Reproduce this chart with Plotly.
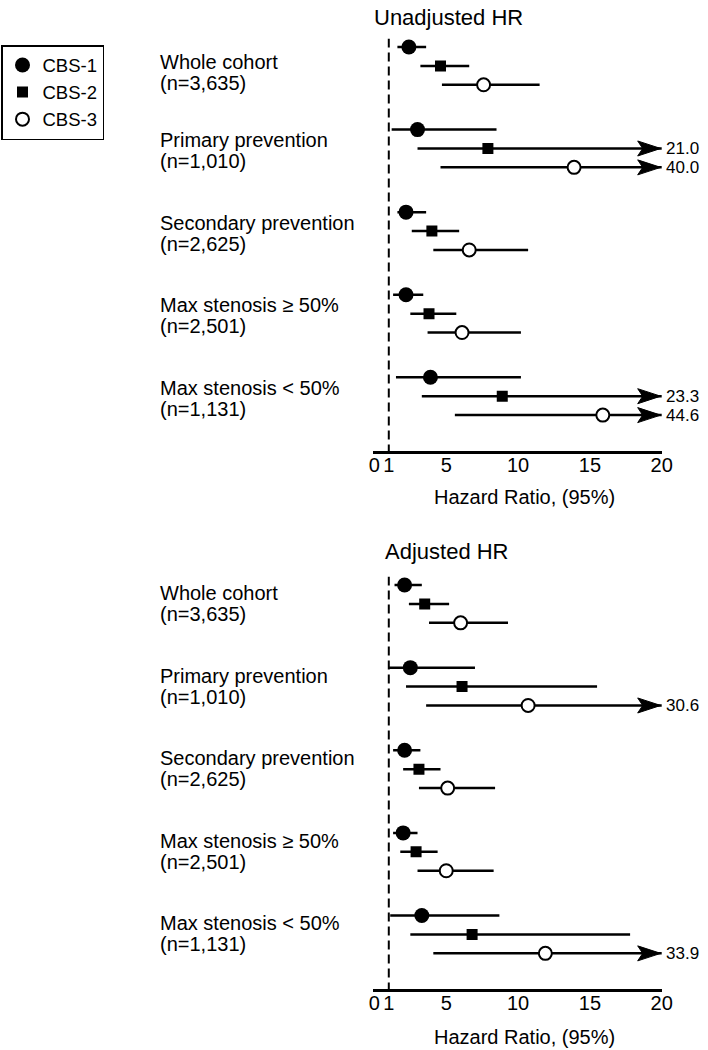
import plotly.graph_objects as go

W, H = 708, 1050

# ---------------- data ----------------
groups = ["Whole cohort", "Primary prevention", "Secondary prevention",
          "Max stenosis ≥ 50%", "Max stenosis < 50%"]
group_n = ["(n=3,635)", "(n=1,010)", "(n=2,625)", "(n=2,501)", "(n=1,131)"]
series = ["CBS-1", "CBS-2", "CBS-3"]
panel_titles = ["Unadjusted HR", "Adjusted HR"]
x_title = "Hazard Ratio, (95%)"
tick_vals = [0, 1, 5, 10, 15, 20]
tick_text = ["0", "1", "5", "10", "15", "20"]

# Unadjusted HR (point, lower, upper)
hr_u1 = [2.4, 3.0, 2.2, 2.2, 3.9]
lo_u1 = [1.6, 1.2, 1.6, 1.3, 1.5]
hi_u1 = [3.6, 8.5, 3.6, 3.4, 10.2]
hr_u2 = [4.6, 7.9, 4.0, 3.8, 8.9]
lo_u2 = [3.2, 3.0, 2.6, 2.5, 3.3]
hi_u2 = [6.6, 21.0, 5.9, 5.7, 23.3]
hr_u3 = [7.6, 13.9, 6.6, 6.1, 15.9]
lo_u3 = [4.7, 4.6, 4.1, 3.7, 5.6]
hi_u3 = [11.5, 40.0, 10.7, 10.2, 44.6]

# Adjusted HR (point, lower, upper)
hr_a1 = [2.1, 2.5, 2.1, 2.0, 3.3]
lo_a1 = [1.4, 1.0, 1.3, 1.3, 1.1]
hi_a1 = [3.3, 7.0, 3.2, 3.0, 8.7]
hr_a2 = [3.5, 6.1, 3.1, 2.9, 6.8]
lo_a2 = [2.4, 2.2, 2.0, 1.8, 2.5]
hi_a2 = [5.2, 15.5, 4.6, 4.4, 17.8]
hr_a3 = [6.0, 10.7, 5.1, 5.0, 11.9]
lo_a3 = [3.8, 3.6, 3.1, 3.0, 4.1]
hi_a3 = [9.3, 30.6, 8.4, 8.3, 33.9]

panels = [
    [(hr_u1, lo_u1, hi_u1), (hr_u2, lo_u2, hi_u2), (hr_u3, lo_u3, hi_u3)],
    [(hr_a1, lo_a1, hi_a1), (hr_a2, lo_a2, hi_a2), (hr_a3, lo_a3, hi_a3)],
]

# ---------------- styling / layout ----------------
FONT = "Arial, 'Liberation Sans', Helvetica, sans-serif"
XMAX = 20
GROUP_STEP = 4.37
Y_RANGE = [21.38, -0.45]
X_RANGE = [-0.12, XMAX]
X_DOMAIN = [372.7 / W, 661.7 / W]
Y_DOMAINS = [[1 - 451 / H, 1 - 38.5 / H], [1 - 989.3 / H, 1 - 576.5 / H]]
LABEL_OFFSETS = [(0.56, 1.67), (0.42, 1.53)]
LABEL_EXTRA = [[0.25, 0, 0, 0, 0], [0, 0, 0, 0, 0]]
ARROW_PATH = "M-1,0 L-24,7.5 L-19,0 L-24,-7.5 Z"

marker_styles = [
    dict(symbol="circle", size=15, color="black", line=dict(color="black", width=0)),
    dict(symbol="square", size=11, color="black", line=dict(color="black", width=0)),
    dict(symbol="circle", size=13, color="white", line=dict(color="black", width=2)),
]

fig = go.Figure()
annotations = []
shapes = []

for p, panel in enumerate(panels):
    xa = "x" if p == 0 else "x2"
    ya = "y" if p == 0 else "y2"
    for s, (hr, lo, hi) in enumerate(panel):
        ys = [g * GROUP_STEP + s for g in range(len(groups))]
        fig.add_trace(go.Scatter(
            x=hr, y=ys, mode="markers", name=series[s], showlegend=False,
            xaxis=xa, yaxis=ya, marker=marker_styles[s],
            error_x=dict(type="data", symmetric=False,
                         array=[h - v for h, v in zip(hi, hr)],
                         arrayminus=[v - l for v, l in zip(hr, lo)],
                         color="black", thickness=2.5, width=0),
            hoverinfo="skip",
        ))
        for g in range(len(groups)):
            if hi[g] > XMAX:
                # arrowhead marking an upper limit beyond the axis
                shapes.append(dict(
                    type="path", xref=xa, yref=ya, xsizemode="pixel", ysizemode="pixel",
                    xanchor=XMAX, yanchor=ys[g], path=ARROW_PATH,
                    fillcolor="black", line=dict(color="black", width=1), layer="above",
                ))
                annotations.append(dict(
                    x=XMAX, y=ys[g], xref=xa, yref=ya, text=f"{hi[g]:.1f}",
                    showarrow=False, xanchor="left", yanchor="middle", xshift=2,
                    font=dict(size=17, color="black", family=FONT),
                ))
    # group labels
    o1, o2 = LABEL_OFFSETS[p]
    for g in range(len(groups)):
        base = g * GROUP_STEP + LABEL_EXTRA[p][g]
        annotations.append(dict(
            x=158 / W, xref="paper", y=base + o1, yref=ya, text=groups[g],
            showarrow=False, xanchor="left", yanchor="middle",
            font=dict(size=20, color="black", family=FONT),
        ))
        annotations.append(dict(
            x=158 / W, xref="paper", y=base + o2, yref=ya, text=group_n[g],
            showarrow=False, xanchor="left", yanchor="middle",
            font=dict(size=20, color="black", family=FONT),
        ))
    # reference line at HR = 1
    shapes.append(dict(type="line", xref=xa, yref=ya, x0=1, x1=1,
                       y0=Y_RANGE[1], y1=Y_RANGE[0],
                       line=dict(color="black", width=2, dash="9px,5px")))

# legend-only traces
for s in range(3):
    fig.add_trace(go.Scatter(x=[None], y=[None], mode="markers", name=series[s],
                             marker=marker_styles[s], showlegend=True,
                             xaxis="x", yaxis="y"))

# panel titles and axis titles
annotations.append(dict(x=372 / W, y=1 - 17 / H, xref="paper", yref="paper",
                        text=panel_titles[0], showarrow=False, xanchor="left",
                        yanchor="middle", font=dict(size=22, color="black", family=FONT)))
annotations.append(dict(x=383 / W, y=1 - 551 / H, xref="paper", yref="paper",
                        text=panel_titles[1], showarrow=False, xanchor="left",
                        yanchor="middle", font=dict(size=22, color="black", family=FONT)))
for ycen in (497, 1037):
    annotations.append(dict(x=524 / W, y=1 - ycen / H, xref="paper", yref="paper",
                            text=x_title, showarrow=False, xanchor="center",
                            yanchor="middle", font=dict(size=20, color="black", family=FONT)))

axis_common = dict(range=X_RANGE, domain=X_DOMAIN, showgrid=False, zeroline=False,
                   showline=True, linecolor="black", linewidth=2.5,
                   tickmode="array", tickvals=tick_vals, ticktext=tick_text,
                   ticks="", ticklabelstandoff=-6, tickangle=0, automargin=False,
                   tickfont=dict(size=20, color="black", family=FONT),
                   fixedrange=True)
yaxis_common = dict(range=Y_RANGE, autorange=False, showgrid=False, zeroline=False,
                    showline=False, showticklabels=False, ticks="", fixedrange=True,
                    automargin=False)

fig.update_layout(
    width=W, height=H,
    margin=dict(l=0, r=0, t=0, b=0, pad=0, autoexpand=False),
    paper_bgcolor="white", plot_bgcolor="white",
    font=dict(family=FONT, color="black"),
    xaxis=dict(anchor="y", **axis_common),
    xaxis2=dict(anchor="y2", **axis_common),
    yaxis=dict(anchor="x", domain=Y_DOMAINS[0], **yaxis_common),
    yaxis2=dict(anchor="x2", domain=Y_DOMAINS[1], **yaxis_common),
    showlegend=True,
    legend=dict(x=1 / W, y=1 - 45 / H, xanchor="left", yanchor="top",
                bordercolor="black", borderwidth=1.5, bgcolor="white",
                font=dict(size=18.5, color="black", family=FONT),
                itemsizing="trace"),
    annotations=annotations,
    shapes=shapes,
)

# remove the default 8px page margin so the figure sits at the window origin
fig.write_html("out.html", config={"displayModeBar": False},
               post_script="document.body.style.margin='0px';")
